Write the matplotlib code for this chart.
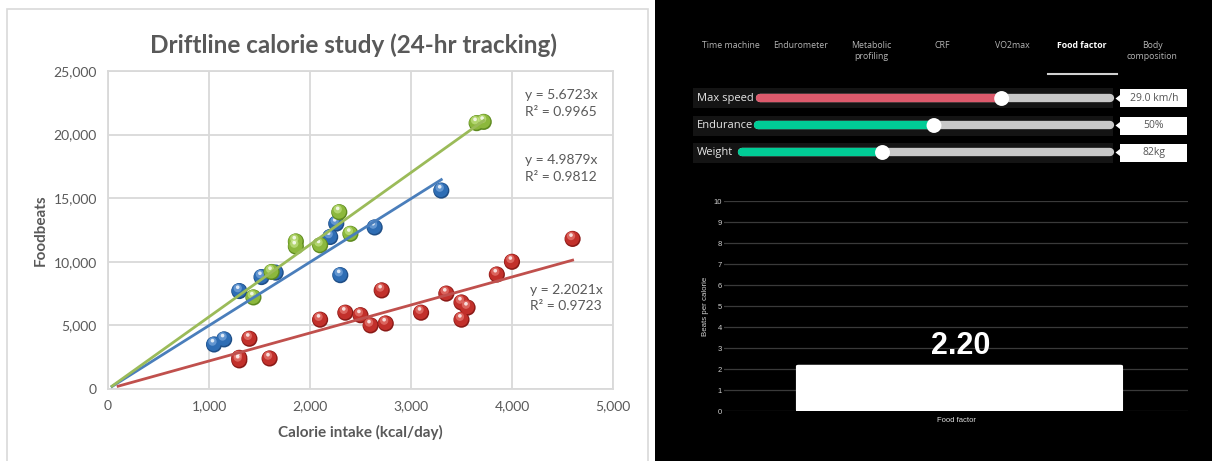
import numpy as np
import matplotlib
matplotlib.use("Agg")
import matplotlib.pyplot as plt
from matplotlib.patches import Rectangle, FancyBboxPatch, Polygon
from matplotlib.transforms import offset_copy

# ---------------- data ----------------
blue_x = [1050, 1150, 1300, 1520, 1660, 2200, 2260, 2300, 2640, 3300]
blue_y = [3500, 3900, 7700, 8800, 9150, 11950, 13000, 8950, 12700, 15600]
green_x = [1440, 1620, 1860, 1860, 2100, 2290, 2400, 3650, 3720]
green_y = [7200, 9200, 11200, 11600, 11300, 13900, 12200, 20900, 21000]
red_x = [1300, 1300, 1400, 1600, 2100, 2350, 2500, 2600, 2710, 2750, 3100,
         3350, 3500, 3500, 3560, 3850, 4000, 4600]
red_y = [2250, 2450, 3950, 2400, 5450, 6000, 5800, 5000, 7750, 5150, 6000,
         7500, 6800, 5450, 6400, 9000, 10000, 11800]
trend_slopes = [4.9879, 5.6723, 2.2021]    # blue, green, red
trend_r2 = [0.9812, 0.9965, 0.9723]
trend_start = [40, 40, 100]

chart_title = "Driftline calorie study (24-hr tracking)"
x_ticks = [0, 1000, 2000, 3000, 4000, 5000]
y_ticks = [0, 5000, 10000, 15000, 20000, 25000]

tabs = ["Time machine", "Endurometer", "Metabolic\nprofiling", "CRF", "VO2max",
        "Food factor", "Body\ncomposition"]
active_tab = "Food factor"
slider_labels = ["Max speed", "Endurance", "Weight"]
slider_values = [29.0, 50, 82]
slider_min = [0, 0, 40]
slider_max = [42, 100, 150]
slider_texts = ["29.0 km/h", "50%", "82kg"]
slider_colors = ["#DD5A6C", "#00CC96", "#00CC96"]

bar_categories = ["Food factor"]
bar_values = [2.2021]
bar_ticks = list(range(0, 11))

# ---------------- figure ----------------
W, H = 1212, 461
fig = plt.figure(figsize=(W / 100, H / 100), dpi=100)
fig.patch.set_facecolor("white")


def fx(px):
    return px / W


def fy(py):
    return 1 - py / H


# left panel border
fig.patches.append(Rectangle((fx(7), fy(470)), fx(648) - fx(7), fy(9) - fy(470),
                             transform=fig.transFigure, fill=False,
                             edgecolor="#D9D9D9", linewidth=1.2, zorder=-2))
# right dark panel
fig.patches.append(Rectangle((fx(655), 0), 1 - fx(655), 1, transform=fig.transFigure,
                             facecolor="black", edgecolor="none", zorder=-2))

# ---------------- scatter chart ----------------
L, R, T, B = 108, 613, 71, 389
ax = fig.add_axes([fx(L), fy(B), fx(R) - fx(L), fy(T) - fy(B)])
ax.set_xlim(0, 5000)
ax.set_ylim(0, 25000)
ax.set_xticks(x_ticks)
ax.set_yticks(y_ticks)
ax.set_xticklabels([f"{v:,}" for v in x_ticks])
ax.set_yticklabels([f"{v:,}" for v in y_ticks])
ax.tick_params(length=0, labelsize=10, colors="#595959", pad=8)
for lab in ax.get_xticklabels() + ax.get_yticklabels():
    lab.set_fontfamily("Lato")
ax.grid(True, color="#D9D9D9", linewidth=1.3)
ax.set_axisbelow(True)
for s in ax.spines.values():
    s.set_color("#D9D9D9")
    s.set_linewidth(1.3)

ax.set_title(chart_title, fontsize=17.5, fontweight="bold", color="#595959",
             family="Lato", pad=13, x=0.486)
ax.set_xlabel("Calorie intake (kcal/day)", fontsize=11, fontweight="bold",
              color="#595959", family="Lato", labelpad=9)
ax.set_ylabel("Foodbeats", fontsize=11, fontweight="bold", color="#595959",
              family="Lato", labelpad=4)

series = [
    (blue_x, blue_y, "#2E6DB4", "#1F4E86", "#8FB8E8", "#4A7EBB"),
    (green_x, green_y, "#8CB83C", "#5E8A20", "#D3EE9A", "#9BBB59"),
    (red_x, red_y, "#C2302B", "#8A1A17", "#F09088", "#C0504D"),
]


def draw_balls(xs, ys, base, dark, light, z):
    ax.scatter(xs, ys, s=135, color=dark, edgecolors="none", zorder=z)
    ax.scatter(xs, ys, s=105, color=base, edgecolors="none", zorder=z + 0.1,
               transform=offset_copy(ax.transData, fig=fig, x=-0.4, y=0.6, units="dots"))
    ax.scatter(xs, ys, s=36, color=light, alpha=0.55, edgecolors="none", zorder=z + 0.2,
               transform=offset_copy(ax.transData, fig=fig, x=-1.6, y=2.9, units="dots"))
    ax.scatter(xs, ys, s=7, color="white", alpha=0.8, edgecolors="none", zorder=z + 0.3,
               transform=offset_copy(ax.transData, fig=fig, x=-1.6, y=3.8, units="dots"))


for i, (xs, ys, base, dark, light, lc) in enumerate(series):
    draw_balls(xs, ys, base, dark, light, 4 + i)
for i, (xs, ys, base, dark, light, lc) in enumerate(series):
    xt = np.array([trend_start[i], max(xs)])
    ax.plot(xt, trend_slopes[i] * xt, color=lc, linewidth=2, zorder=10 + i)

eq_pos = [(4130, 17350), (4130, 22450), (4180, 7150)]
for i in range(3):
    ax.text(eq_pos[i][0], eq_pos[i][1],
            f"y = {trend_slopes[i]:.4f}x\nR² = {trend_r2[i]:.4f}",
            fontsize=10, color="#595959", family="Lato", va="center", ha="left",
            linespacing=1.45, zorder=20)

# ---------------- right UI panel (pixel overlay) ----------------
ui = fig.add_axes([fx(655), 0, 1 - fx(655), 1])
ui.set_xlim(655, W)
ui.set_ylim(H, 0)
ui.axis("off")
ui.patch.set_alpha(0)

tab_centers = [731, 801, 871, 942, 1012, 1082, 1152]
for t, cx in zip(tabs, tab_centers):
    act = t == active_tab
    ui.text(cx, 41, t, ha="center", va="top", fontsize=6.3,
            color="white" if act else "#B5B5B5",
            fontweight="bold" if act else "normal", family="Open Sans",
            linespacing=1.3)
ui.plot([1048, 1117], [74, 74], color="#D0D0D0", linewidth=1.5)

row_y = [98.5, 125.5, 152.5]
track_start = [760, 758, 742]
track_end = 1110
for i in range(3):
    yc = row_y[i]
    ui.add_patch(Rectangle((693, yc - 10), 420, 20, facecolor="#141414",
                           edgecolor="none"))
    ui.text(697, yc, slider_labels[i], ha="left", va="center", fontsize=8,
            color="#E6E6E6", family="Open Sans")
    frac = (slider_values[i] - slider_min[i]) / (slider_max[i] - slider_min[i])
    x0 = track_start[i]
    xk = x0 + frac * (track_end - x0)
    ui.plot([x0, track_end], [yc, yc], color="#C8C8C8", linewidth=6,
            solid_capstyle="round")
    ui.plot([x0, xk], [yc, yc], color=slider_colors[i], linewidth=6,
            solid_capstyle="round")
    ui.scatter([xk], [yc], s=115, color="white", edgecolors="none", zorder=5)
    ui.add_patch(Rectangle((1120, yc - 9), 67, 18, facecolor="white",
                           edgecolor="none"))
    ui.add_patch(Polygon([[1120, yc - 3.5], [1115.5, yc], [1120, yc + 3.5]],
                         closed=True, facecolor="white", edgecolor="none"))
    ui.text(1154, yc, slider_texts[i], ha="center", va="center", fontsize=7.5,
            color="#555555", family="Open Sans")

# ---------------- bar chart ----------------
bL, bR, bT, bB = 724, 1188, 201, 411
bax = fig.add_axes([fx(bL), fy(bB), fx(bR) - fx(bL), fy(bT) - fy(bB)])
bax.set_facecolor("none")
bax.set_xlim(-0.5, 0.5)
bax.set_ylim(0, 10)
bax.set_yticks(bar_ticks)
bax.tick_params(axis="y", length=0, labelsize=5.5, colors="#D0D0D0", pad=1.5)
bax.tick_params(axis="x", length=0, labelsize=5.5, colors="#E0E0E0", pad=4)
bax.grid(True, axis="y", color="#3A3A3A", linewidth=0.9)
bax.set_axisbelow(True)
for s in bax.spines.values():
    s.set_visible(False)
for lab in bax.get_yticklabels():
    lab.set_fontfamily("Liberation Sans")
bax.set_xticks(range(len(bar_categories)))
bax.set_xticklabels(bar_categories, family="Liberation Sans")
bax.set_ylabel("Beats per calorie", fontsize=5.7, color="#D0D0D0",
               family="Liberation Sans", labelpad=3)
bar_w = 0.705
for i, v in enumerate(bar_values):
    left = i - 0.345
    bar = FancyBboxPatch((left, 0), bar_w, v,
                         boxstyle="round,pad=0,rounding_size=0.006",
                         mutation_aspect=10,
                         facecolor="white", edgecolor="none", zorder=3)
    bax.add_patch(bar)
    bax.add_patch(Rectangle((left, 0), bar_w, v * 0.5, facecolor="white",
                            edgecolor="none", zorder=3))
    bax.text(left + bar_w / 2 + 0.002, v + 0.2, f"{v:.2f}", ha="center", va="bottom",
             fontsize=22, fontweight="bold", color="white",
             family="Liberation Sans", zorder=4)

fig.savefig("out.png", dpi=100, facecolor=fig.get_facecolor())
